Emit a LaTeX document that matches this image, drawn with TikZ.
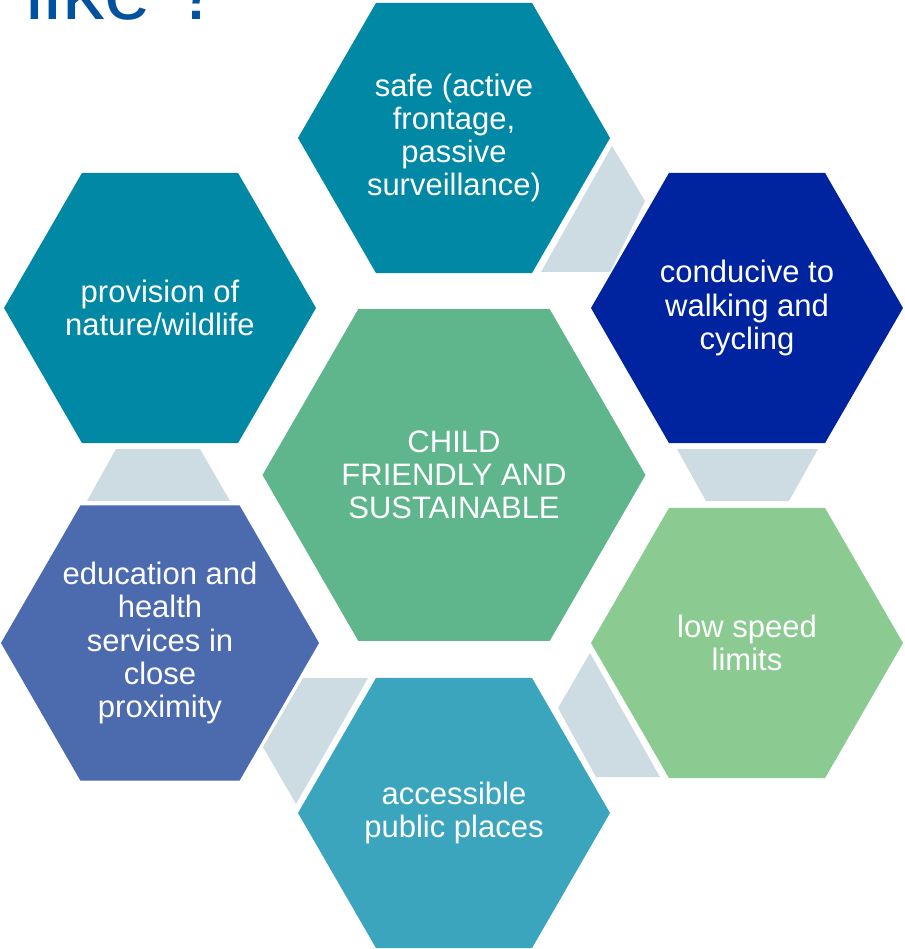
\documentclass[tikz,border=0pt]{standalone}
\usepackage{fontspec}
\setmainfont{Liberation Sans}
\usepackage{tikz}
\usetikzlibrary{shapes.geometric}
\usepackage{xcolor}
\definecolor{hexteal}{RGB}{0,136,164}
\definecolor{hexnavy}{RGB}{0,35,160}
\definecolor{hexgreen}{RGB}{95,182,140}
\definecolor{hexmint}{RGB}{139,203,146}
\definecolor{hexcyan}{RGB}{58,165,189}
\definecolor{hexslate}{RGB}{76,106,174}
\definecolor{linkgrey}{RGB}{205,219,226}
\definecolor{titleblue}{RGB}{0,82,160}

\begin{document}
\begin{tikzpicture}[
  x=1pt, y=-1pt,
  hexa/.style={regular polygon, regular polygon sides=6,
    inner sep=0pt, outer sep=0pt, minimum size=312pt,
    text=white, align=center, font=\fontsize{31}{33.3}\selectfont},
  link/.style={fill=linkgrey, draw=none}
]
\useasboundingbox (0,0) rectangle (904,949);
\clip (0,0) rectangle (904,949);

% Title
\node[anchor=base west, inner sep=0pt, text=titleblue,
  font=\fontsize{84}{90}\selectfont] (title) at (25,20) {like ?};

% Centre
\node[hexa, minimum size=383pt, fill=hexgreen] (centre) at (454,475)
  {CHILD\\FRIENDLY AND\\SUSTAINABLE};

% Ring of six
\node[hexa, fill=hexteal] (safe) at (454,138)
  {safe (active\\frontage,\\passive\\surveillance)};
\node[hexa, fill=hexnavy] (walk) at (747,308)
  {conducive to\\walking and\\cycling};
\node[hexa, fill=hexmint] (speed) at (747,643)
  {low speed\\limits};
\node[hexa, fill=hexcyan] (public) at (454,813)
  {accessible\\public places};
\node[hexa, fill=hexslate] (services) at (160,643)
  {education and\\health\\services in\\close\\proximity};
\node[hexa, fill=hexteal] (nature) at (160,308)
  {provision of\\nature/wildlife};

% Links
\fill[link] (541,272) -- (612,146) -- (645,201) -- (610,272) -- cycle;
\fill[link] (677,449) -- (818,449) -- (789,501) -- (706,501) -- cycle;
\fill[link] (590,653) -- (558,708) -- (596,777) -- (660,777) -- cycle;
\fill[link] (303,678) -- (368,678) -- (296,804) -- (263,747) -- cycle;
\fill[link] (116,449) -- (200,449) -- (230,501) -- (87,501) -- cycle;
\end{tikzpicture}
\end{document}
